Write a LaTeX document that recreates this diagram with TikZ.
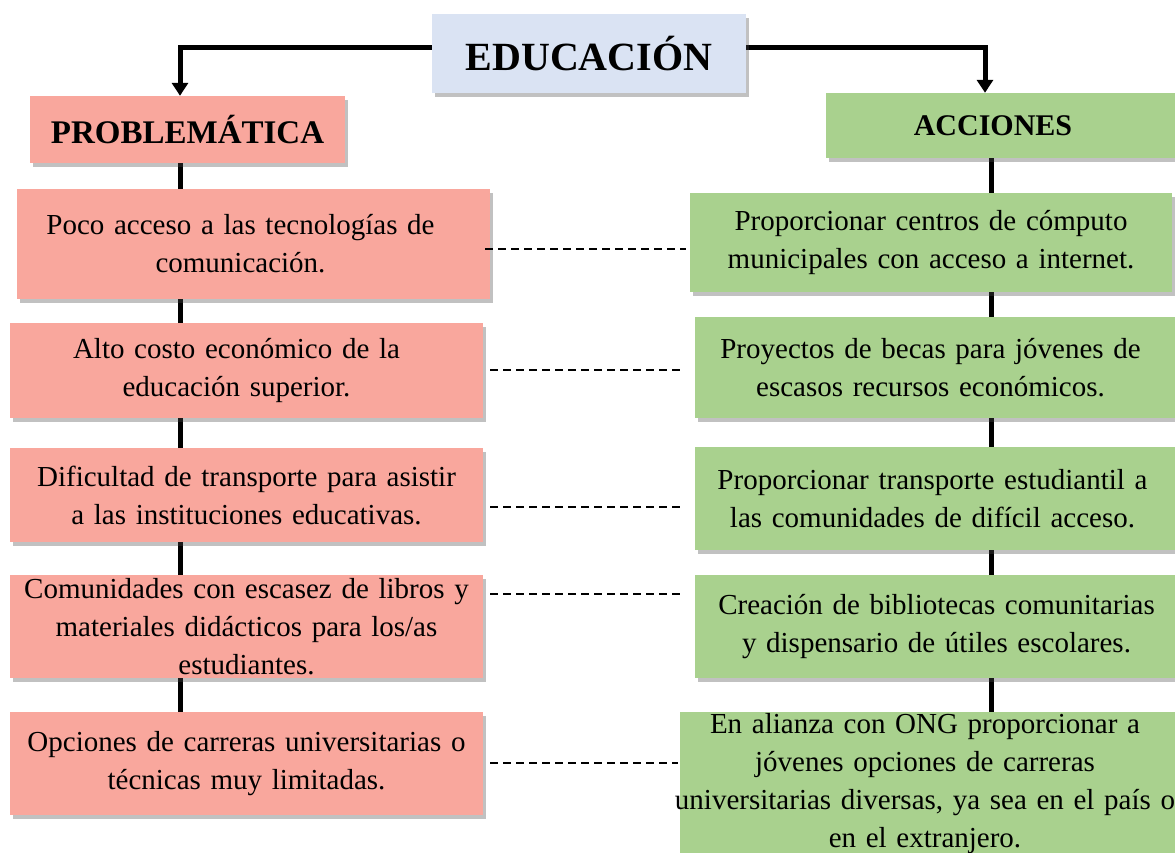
\documentclass[tikz,border=0pt]{standalone}
\usepackage{fontspec}
\setmainfont{Liberation Serif}
\usetikzlibrary{arrows.meta,shadows,backgrounds,calc}
\definecolor{pinkbox}{RGB}{249,167,157}
\definecolor{greenbox}{RGB}{169,209,142}
\definecolor{bluebox}{RGB}{218,227,243}
\tikzset{
  boxbase/.style={rectangle, inner sep=0pt, align=center, text=black,
    drop shadow={shadow xshift=3pt, shadow yshift=-4pt, opacity=0.35, fill=black!70}},
  pbox/.style={boxbase, fill=pinkbox, font=\fontsize{29}{38}\selectfont},
  gbox/.style={boxbase, fill=greenbox, font=\fontsize{29}{38}\selectfont},
  titlebox/.style={boxbase, fill=bluebox, font=\fontsize{40}{44}\selectfont\bfseries},
  headp/.style={boxbase, fill=pinkbox, font=\fontsize{33}{38}\selectfont\bfseries},
  headg/.style={boxbase, fill=greenbox, font=\fontsize{30}{36}\selectfont\bfseries},
  vline/.style={line width=5pt, black},
  arrowline/.style={line width=5pt, black, -{Triangle[length=13pt,width=16pt]}},
  dashline/.style={line width=1.8pt, black, dash pattern=on 8pt off 5pt}
}
\begin{document}
\begin{tikzpicture}[x=1pt,y=-1pt]
\useasboundingbox (0,0) rectangle (1175,852);
\begin{scope}
\clip (0,0) rectangle (1175,852);
% title and headers
\node[titlebox, minimum width=314pt, minimum height=79pt] (E) at (589,53.5) {EDUCACIÓN};
\node[headp, minimum width=315pt, minimum height=67pt] (P) at (187.5,129.5) {PROBLEMÁTICA};
\node[headg, minimum width=349pt, minimum height=65pt] (A) at (1000.5,125.5) {\hspace*{-15pt}ACCIONES};
% problem boxes
\node[pbox, minimum width=473pt, minimum height=110pt, text width=460pt] (L1) at (253.5,244) {\hspace*{-26pt}Poco acceso a las tecnologías de\\\hspace*{-26pt}comunicación.};
\node[pbox, minimum width=473pt, minimum height=95pt, text width=460pt] (L2) at (246.5,370.5) {\hspace*{-20pt}Alto costo económico de la\\\hspace*{-20pt}educación superior.};
\node[pbox, minimum width=473pt, minimum height=94pt, text width=460pt] (L3) at (246.5,495) {Dificultad de transporte para asistir\\a las instituciones educativas.};
\node[pbox, minimum width=473pt, minimum height=103pt, text width=470pt] (L4) at (246.5,626.5) {Comunidades con escasez de libros y\\materiales didácticos para los/as\\estudiantes.};
\node[pbox, minimum width=473pt, minimum height=103pt, text width=470pt] (L5) at (246.5,763.5) {Opciones de carreras universitarias o\\técnicas muy limitadas.};
% action boxes
\node[gbox, minimum width=482pt, minimum height=99pt, text width=470pt] (R1) at (931,242.5) {Proporcionar centros de cómputo\\municipales con acceso a internet.};
\node[gbox, minimum width=485pt, minimum height=101pt, text width=480pt] (R2) at (937.5,367.5) {\hspace*{-14pt}Proyectos de becas para jóvenes de\\\hspace*{-14pt}escasos recursos económicos.};
\node[gbox, minimum width=485pt, minimum height=103pt, text width=480pt] (R3) at (937.5,498.5) {\hspace*{-10pt}Proporcionar transporte estudiantil a\\\hspace*{-10pt}las comunidades de difícil acceso.};
\node[gbox, minimum width=485pt, minimum height=103pt, text width=480pt] (R4) at (937.5,626.5) {\hspace*{-2pt}Creación de bibliotecas comunitarias\\\hspace*{-2pt}y dispensario de útiles escolares.};
\node[gbox, minimum width=500pt, minimum height=144pt, text width=495pt] (R5) at (930,784) {\hspace*{-10pt}En alianza con ONG proporcionar a\\\hspace*{-10pt}jóvenes opciones de carreras\\\hspace*{-10pt}universitarias diversas, ya sea en el país o\\\hspace*{-10pt}en el extranjero.};
% connector coordinates
\coordinate (lx) at (180,0);
\coordinate (rx) at (991,0);
\coordinate (ax) at (985,0);
\coordinate (d1a) at (485,249); \coordinate (d1b) at (686,249);
\coordinate (d2a) at (490,370); \coordinate (d2b) at (680,370);
\coordinate (d3a) at (490,507); \coordinate (d3b) at (680,507);
\coordinate (d4a) at (490,594); \coordinate (d4b) at (680,594);
\coordinate (d5a) at (490,763); \coordinate (d5b) at (678,763);
\begin{pgfonlayer}{background}
\draw[vline] (P.south -| lx) -- (L5.north -| lx);
\draw[vline] (A.south -| rx) -- (R5.north -| rx);
\draw[arrowline] ([yshift=6pt]E.west) -| (P.north -| lx);
\draw[arrowline] ([yshift=6pt]E.east) -| (A.north -| ax);
\end{pgfonlayer}
\draw[dashline] (d1a) -- (d1b);
\draw[dashline] (d2a) -- (d2b);
\draw[dashline] (d3a) -- (d3b);
\draw[dashline] (d4a) -- (d4b);
\draw[dashline] (d5a) -- (d5b);
\end{scope}
\end{tikzpicture}
\end{document}
